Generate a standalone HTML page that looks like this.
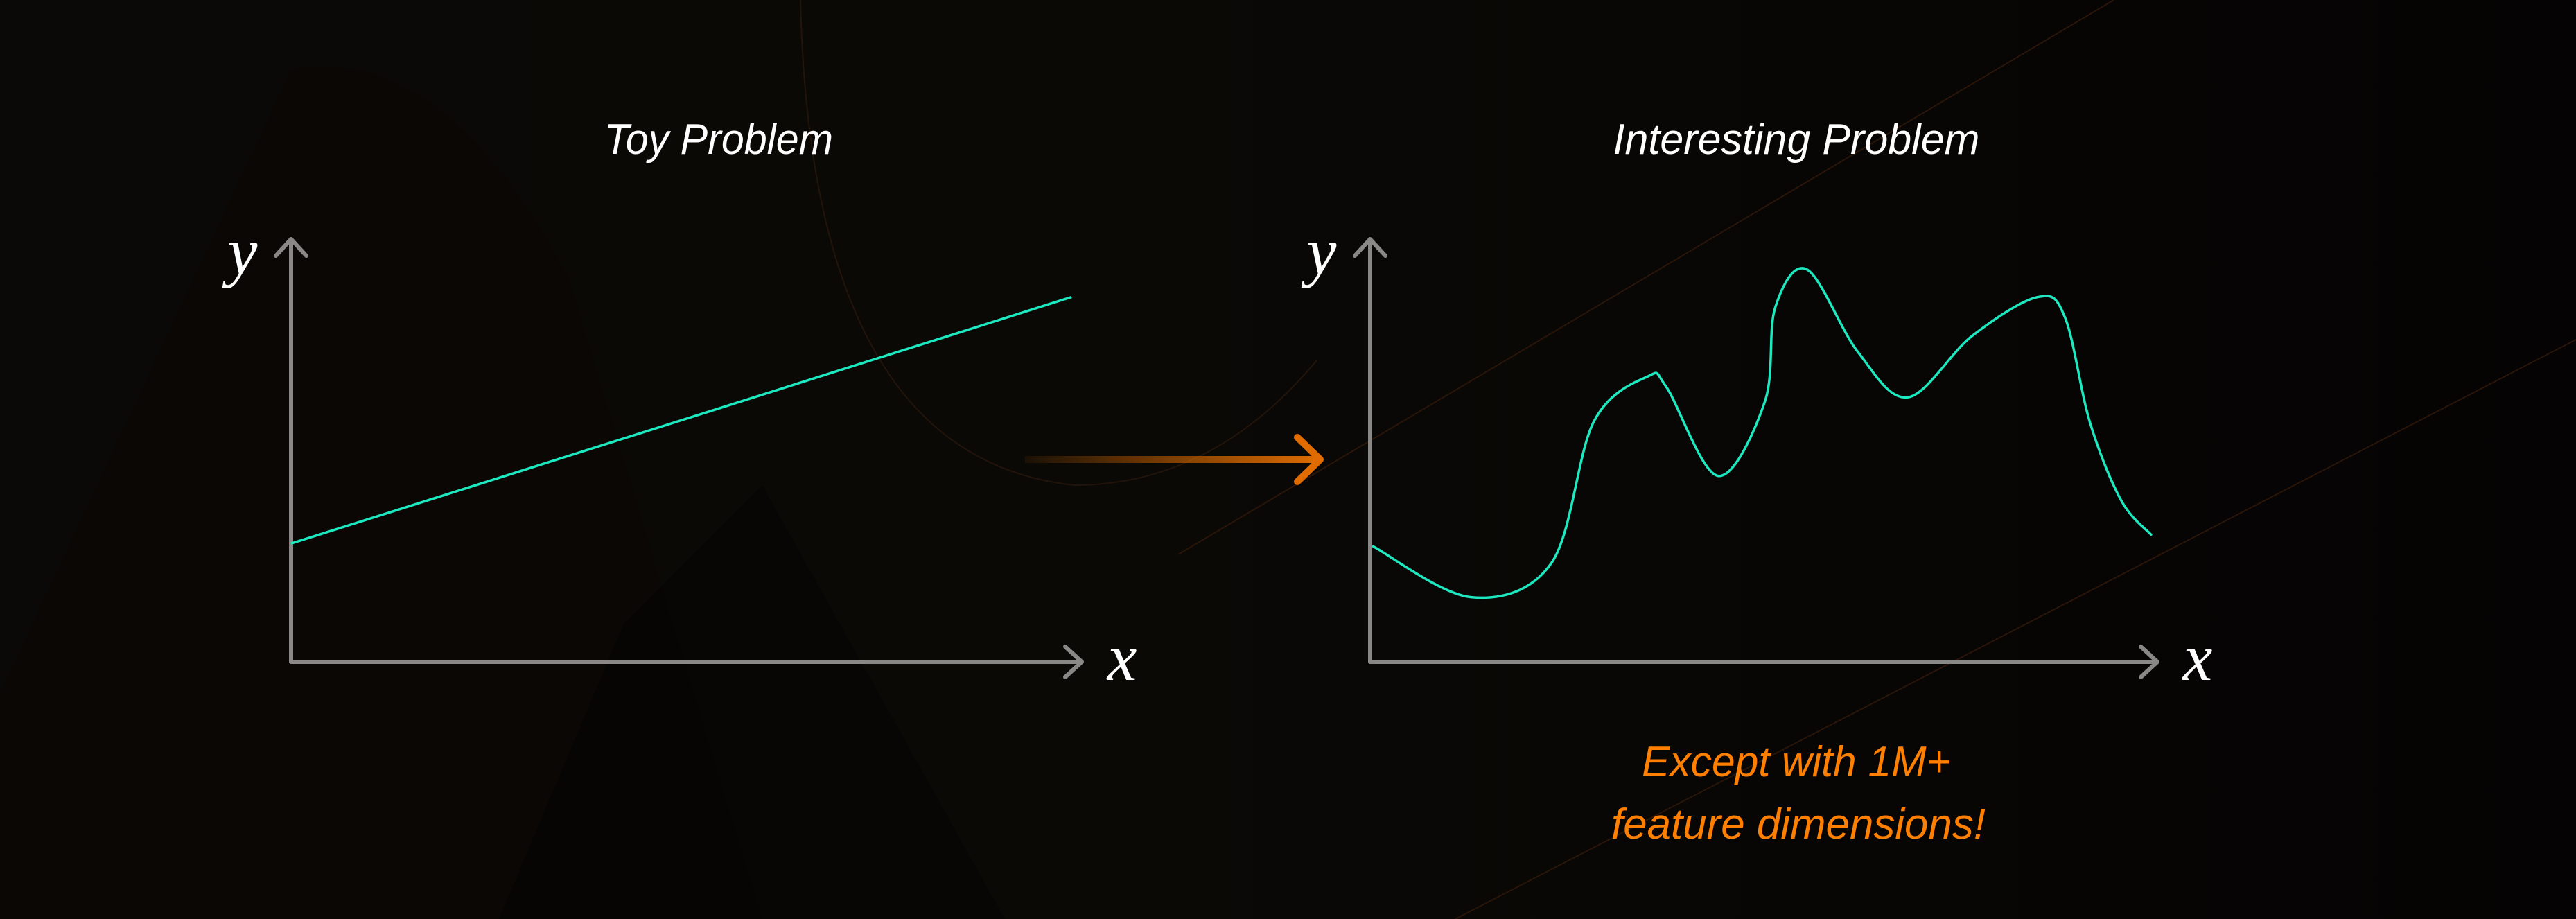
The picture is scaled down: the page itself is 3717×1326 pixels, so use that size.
<!DOCTYPE html>
<html><head><meta charset="utf-8"><style>
html,body{margin:0;padding:0;background:#070504;}
svg{display:block;}
</style></head><body>
<svg width="3717" height="1326" viewBox="0 0 3717 1326" xmlns="http://www.w3.org/2000/svg">
<defs>
<linearGradient id="arrowGrad" gradientUnits="userSpaceOnUse" x1="1479" y1="663" x2="1905" y2="663">
<stop offset="0" stop-color="#e06c00" stop-opacity="0.08"/>
<stop offset="1" stop-color="#e06c00" stop-opacity="1"/>
</linearGradient>
<linearGradient id="bgGrad" x1="0" x2="1" y1="0" y2="0">
<stop offset="0" stop-color="#0b0907"/>
<stop offset="0.45" stop-color="#0a0906"/>
<stop offset="1" stop-color="#050303"/>
</linearGradient>
</defs>
<rect width="3717" height="1326" fill="url(#bgGrad)"/>
<path d="M0 1000 L420 100 Q640 60 820 400 L1100 1326 L0 1326 Z" fill="#0a0504" opacity="0.5"/>
<path d="M900 900 L1100 700 L1450 1326 L720 1326 Z" fill="#040404" opacity="0.35"/>
<path d="M1155 0 Q1170 660 1550 700 Q1750 700 1900 520" fill="none" stroke="#22140a" stroke-width="2"/>
<line x1="1700" y1="800" x2="3050" y2="0" stroke="#2a1509" stroke-width="2"/>
<line x1="2100" y1="1326" x2="3717" y2="490" stroke="#2a1509" stroke-width="2"/>

<g id="left"></g>
<g id="right"></g>

<text x="1037" y="222" text-anchor="middle" font-family="Liberation Sans, sans-serif" font-style="italic" font-size="62" fill="#ffffff" textLength="330" lengthAdjust="spacingAndGlyphs">Toy Problem</text>
<text x="2592" y="222" text-anchor="middle" font-family="Liberation Sans, sans-serif" font-style="italic" font-size="62" fill="#ffffff" textLength="529" lengthAdjust="spacingAndGlyphs">Interesting Problem</text>

<g>
<rect x="1479" y="658" width="423" height="10" fill="url(#arrowGrad)"/>
<polyline points="1872,631 1905,663 1872,695" fill="none" stroke="#e06c00" stroke-width="10" stroke-linecap="round" stroke-linejoin="round"/>
</g>

<text x="2592" y="1120" text-anchor="middle" font-family="Liberation Sans, sans-serif" font-style="italic" font-size="62" fill="#ff7f00" textLength="446" lengthAdjust="spacingAndGlyphs">Except with 1M+</text>
<text x="2595" y="1210" text-anchor="middle" font-family="Liberation Sans, sans-serif" font-style="italic" font-size="62" fill="#ff7f00" textLength="540" lengthAdjust="spacingAndGlyphs">feature dimensions!</text>
</svg>
<script>
// Toy problem (linear) data
const toyX = [0, 99.4];
const toyY = [28.0, 86.3];
// Interesting problem data
const curveX = [0.4, 12.9, 23.2, 28.6, 35.5, 37.9, 44.5, 50.5, 51.8, 55.9, 62.4, 68.8, 77.0, 85.4, 88.9, 92.1, 96.1, 99.9];
const curveY = [27.3, 15.3, 23.4, 56.8, 67.5, 65.0, 44.0, 61.6, 83.7, 92.8, 73.3, 62.6, 77.1, 86.3, 81.4, 56.5, 38.1, 30.1];

const NS = 'http://www.w3.org/2000/svg';
function mk(tag, attrs, parent){
  const el = document.createElementNS(NS, tag);
  for (const k in attrs) el.setAttribute(k, attrs[k]);
  parent.appendChild(el);
  return el;
}
function axes(g, x0, x1, yTop, yBot){
  const sx = v => x0 + (x1 - x0) * v / 100;
  const sy = v => yBot - (yBot - yTop) * v / 100;
  const ya = mk('path', {d:`M${x0} ${yBot} L${x0} ${yTop} M${x0-22} ${yTop+24} L${x0} ${yTop} L${x0+22} ${yTop+24}`, fill:'none', stroke:'#8a8886', 'stroke-width':6, 'stroke-linecap':'round', 'stroke-linejoin':'round'}, g);
  
  
  const xa = mk('path', {d:`M${x0} ${yBot} L${x1+8} ${yBot} M${x1-16} ${yBot-22} L${x1+8} ${yBot} L${x1-16} ${yBot+22}`, fill:'none', stroke:'#8a8886', 'stroke-width':6, 'stroke-linecap':'round', 'stroke-linejoin':'round'}, g);
  
  
  const yl = mk('text', {x:x0-70, y:yTop+50, 'font-family':'Liberation Serif, serif', 'font-style':'italic', 'font-size':96, fill:'#fff', 'text-anchor':'middle'}, g);
  yl.textContent = 'y';
  
  
  const xl = mk('text', {x:x1+66, y:yBot+26, 'font-family':'Liberation Serif, serif', 'font-style':'italic', 'font-size':96, fill:'#fff', 'text-anchor':'middle'}, g);
  xl.textContent = 'x';
  
  
  return {sx, sy};
}
function smoothPath(pts){
  let d = `M${pts[0][0]} ${pts[0][1]}`;
  for (let i = 0; i < pts.length - 1; i++){
    const p0 = pts[i-1] || pts[i], p1 = pts[i], p2 = pts[i+1], p3 = pts[i+2] || p2;
    const t = 6;
    const c1 = [p1[0] + (p2[0]-p0[0])/t, p1[1] + (p2[1]-p0[1])/t];
    const c2 = [p2[0] - (p3[0]-p1[0])/t, p2[1] - (p3[1]-p1[1])/t];
    d += ` C${c1[0]} ${c1[1]} ${c2[0]} ${c2[1]} ${p2[0]} ${p2[1]}`;
  }
  return d;
}
const L = document.getElementById('left');
const a1 = axes(L, 420, 1553, 345, 955);
const toyLine = mk('line', {x1:a1.sx(toyX[0]), y1:a1.sy(toyY[0]), x2:a1.sx(toyX[1]), y2:a1.sy(toyY[1]), stroke:'#1de9c0', 'stroke-width':3.5}, L);



const R = document.getElementById('right');
const a2 = axes(R, 1977, 3105, 345, 955);
const pts = curveX.map((x, i) => [a2.sx(x), a2.sy(curveY[i])]);
const curve = mk('path', {d:smoothPath(pts), fill:'none', stroke:'#1de9c0', 'stroke-width':3.5, 'stroke-linecap':'round'}, R);


</script>
</body></html>
